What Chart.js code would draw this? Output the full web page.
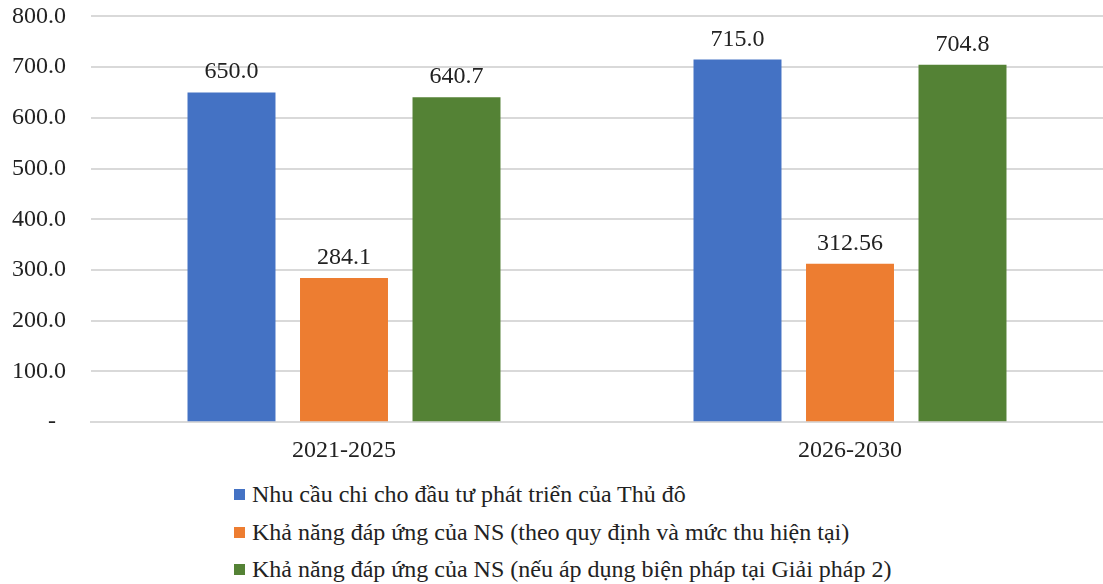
<!DOCTYPE html>
<html>
<head>
<meta charset="utf-8">
<script src="https://cdn.jsdelivr.net/npm/chart.js@4"></script>
<style>
  body { margin: 0; background: #fff; }
  #wrap { position: relative; width: 1103px; height: 479px; }
  #legend { margin: -3px 0 0 234px; font-family: "Liberation Serif", "Times New Roman", serif; font-size: 24px; color: #222; }
  #legend div { height: 37.5px; line-height: 37.5px; display: flex; align-items: center; }
  #legend span.box { display: inline-block; width: 11px; height: 11px; margin-right: 7px; }
</style>
</head>
<body>
<div id="wrap"><canvas id="chart"></canvas></div>
<div id="legend"></div>
<script>
const categories = ['2021-2025', '2026-2030'];
const seriesNames = [
  'Nhu cầu chi cho đầu tư phát triển của Thủ đô',
  'Khả năng đáp ứng của NS (theo quy định và mức thu hiện tại)',
  'Khả năng đáp ứng của NS (nếu áp dụng biện pháp tại Giải pháp 2)'
];
const demand = [650.0, 715.0];
const currentCapacity = [284.1, 312.56];
const solutionCapacity = [640.7, 704.8];
const colors = ['#4472C4', '#ED7D31', '#548235'];

const font = "'Liberation Serif', 'Times New Roman', serif";

function fmt(v) {
  return Number.isInteger(v) ? v.toFixed(1) : String(v);
}

// labels above bars
const valueLabels = {
  id: 'valueLabels',
  afterDatasetsDraw(chart) {
    const ctx = chart.ctx;
    ctx.save();
    ctx.font = '24px ' + font;
    ctx.fillStyle = '#222';
    ctx.textAlign = 'center';
    ctx.textBaseline = 'alphabetic';
    chart.data.datasets.forEach((ds, i) => {
      chart.getDatasetMeta(i).data.forEach((bar, j) => {
        ctx.fillText(fmt(ds.data[j]), bar.x, bar.y - 14);
      });
    });
    ctx.restore();
  }
};

let chart = new Chart(document.getElementById('chart'), {
  type: 'bar',
  data: {
    labels: categories,
    datasets: [demand, currentCapacity, solutionCapacity].map((d, i) => ({
      label: seriesNames[i],
      data: d,
      backgroundColor: colors[i],
      categoryPercentage: 0.667,
      barPercentage: 0.782
    }))
  },
  options: {
    responsive: true,
    maintainAspectRatio: false,
    animation: false,
    layout: { padding: { left: 12, right: 0, top: 0, bottom: 0 } },
    plugins: {
      legend: { display: false },
      tooltip: { enabled: false }
    },
    scales: {
      x: {
        grid: { display: false, drawTicks: false },
        border: { color: '#D9D9D9', width: 2 },
        ticks: { color: '#222', font: { family: font, size: 24 }, padding: 14 }
      },
      y: {
        min: 0,
        max: 800,
        grid: { color: '#D9D9D9', lineWidth: 2, drawTicks: false },
        border: { display: false },
        afterFit: s => { s.width = 79; },
        ticks: {
          stepSize: 100,
          color: '#222',
          padding: 2,
          crossAlign: 'far',
          font: { family: font, size: 24 },
          callback: v => v === 0 ? '      -' : v.toFixed(1)
        }
      }
    }
  },
  plugins: [valueLabels]
});

const legendEl = document.getElementById('legend');
chart.data.datasets.forEach(ds => {
  const row = document.createElement('div');
  const box = document.createElement('span');
  box.className = 'box';
  box.style.background = ds.backgroundColor;
  row.appendChild(box);
  row.appendChild(document.createTextNode(ds.label));
  legendEl.appendChild(row);
});
</script>
</body>
</html>
